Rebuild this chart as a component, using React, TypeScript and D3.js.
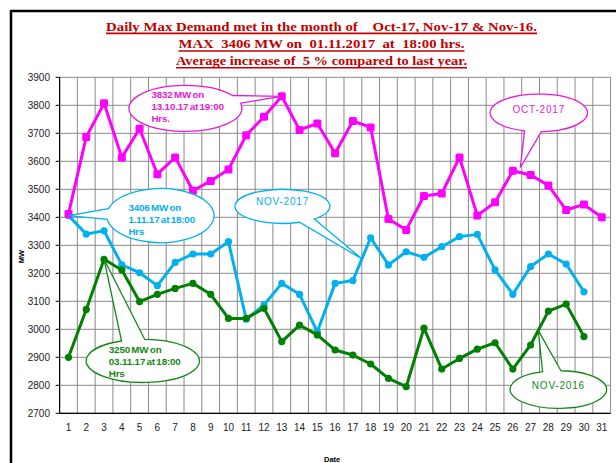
import React from "react";
import * as d3 from "d3";

const days = d3.range(1, 32);
const yTicks = [2700, 2800, 2900, 3000, 3100, 3200, 3300, 3400, 3500, 3600, 3700, 3800, 3900];
const oct17 = [3412, 3687, 3807, 3614, 3716, 3554, 3614, 3495, 3530, 3571, 3693, 3759, 3832, 3712, 3735, 3629, 3744, 3721, 3394, 3355, 3476, 3485, 3614, 3406, 3454, 3566, 3551, 3514, 3426, 3446, 3400];
const nov17 = [3406, 3340, 3352, 3230, 3202, 3156, 3239, 3269, 3269, 3313, 3036, 3087, 3164, 3125, 2991, 3164, 3174, 3327, 3230, 3277, 3257, 3295, 3331, 3339, 3212, 3125, 3224, 3269, 3233, 3134];
const nov16 = [2900, 3071, 3250, 3212, 3099, 3125, 3146, 3164, 3125, 3039, 3039, 3075, 2956, 3015, 2980, 2926, 2908, 2876, 2825, 2795, 3004, 2858, 2896, 2929, 2952, 2858, 2944, 3065, 3090, 2974];
const titleLines = [
  "Daily Max Demand met in the month of    Oct-17, Nov-17 & Nov-16.",
  "MAX  3406 MW on  01.11.2017  at  18:00 hrs.",
  "Average increase of  5 % compared to last year.",
];

const MAG = "#ff00ff";
const CYAN = "#00b0f0";
const GREEN = "#008000";
const TITLE_RED = "#c00000";

const W = 616, H = 463;
const x = d3.scaleLinear().domain([0.5, 31.5]).range([59.6, 610.6]);
const y = d3.scaleLinear().domain([2700, 3900]).range([413.3, 77.3]);

type Callout = {
  color: string; cx: number; cv: number; rx: number; ry: number;
  a1: number; a2: number; tx: number; tv: number;
  lines: string[]; kind: "info" | "label"; dx: number; dy: number;
};

const callouts: Callout[] = [
  { color: "#e619d9", cx: 7.58, cv: 3789, rx: 56.5, ry: 23, a1: -34, a2: -13, tx: 13, tv: 3832,
    lines: ["3832 MW on", "13.10.17 at 19:00", "Hrs."], kind: "info", dx: -34, dy: -14 },
  { color: CYAN, cx: 6.17, cv: 3406, rx: 53.7, ry: 27, a1: 172, a2: 195, tx: 1, tv: 3406,
    lines: ["3406 MW on", "1.11.17 at 18:00", "Hrs"], kind: "info", dx: -32, dy: -8 },
  { color: CYAN, cx: 13.04, cv: 3439, rx: 47.5, ry: 17, a1: 48, a2: 69, tx: 17.5, tv: 3252,
    lines: ["NOV-2017"], kind: "label", dx: 0, dy: -4.5 },
  { color: "#e619d9", cx: 27.46, cv: 3773, rx: 48.7, ry: 18.8, a1: 87, a2: 107, tx: 26.42, tv: 3578,
    lines: ["OCT-2017"], kind: "label", dx: 0, dy: -3.5 },
  { color: "#118811", cx: 5.18, cv: 2887, rx: 56.7, ry: 21.5, a1: -112, a2: -88, tx: 3, tv: 3250,
    lines: ["3250 MW on", "03.11.17 at 18:00", "Hrs"], kind: "info", dx: -34, dy: -11 },
  { color: "#118811", cx: 28.56, cv: 2785, rx: 48.3, ry: 18.8, a1: -109, a2: -87, tx: 27.43, tv: 2996,
    lines: ["NOV-2016"], kind: "label", dx: 0, dy: -4.5 },
];

function calloutPath(c: Callout) {
  const cx = x(c.cx), cy = y(c.cv);
  const p = (deg: number) => {
    const t = (deg * Math.PI) / 180;
    return [cx + c.rx * Math.cos(t), cy + c.ry * Math.sin(t)];
  };
  const [x1, y1] = p(c.a1);
  const [x2, y2] = p(c.a2);
  return `M${x2},${y2} A${c.rx},${c.ry} 0 1 1 ${x1},${y1} L${x(c.tx)},${y(c.tv)} Z`;
}

export default function App() {
  const lineGen = d3.line<number>().x((_, i) => x(i + 1)).y((d) => y(d));
  const titleY = [30.7, 48.3, 65];
  const titleW = [431, 286, 291];
  const cxT = 321.5;
  const font = "Liberation Sans, Arial, sans-serif";
  return (
    <svg width={W} height={H} style={{ position: "absolute", left: 0, top: 0, background: "#fff" }}>
      <rect x={0} y={0} width={W} height={H} fill="#fff" />
      {/* frame */}
      <rect x={11} y={11} width={W + 20} height={H + 20} fill="none" stroke="#000" strokeWidth={2.5} />
      {/* title */}
      {titleLines.map((t, i) => (
        <g key={i}>
          <text x={cxT} y={titleY[i]} textAnchor="middle" fill={TITLE_RED}
            fontFamily="Liberation Serif, Times New Roman, serif" fontWeight="bold" fontSize={13}
            textLength={titleW[i]} lengthAdjust="spacingAndGlyphs" style={{ whiteSpace: "pre" }}>{t}</text>
          <line x1={cxT - titleW[i] / 2} x2={cxT + titleW[i] / 2} y1={titleY[i] + 2.7} y2={titleY[i] + 2.7}
            stroke={TITLE_RED} strokeWidth={1.6} />
        </g>
      ))}
      {/* grid */}
      {yTicks.map((v) => (
        <line key={"h" + v} x1={x(0.5)} x2={x(31.5)} y1={y(v)} y2={y(v)} stroke="#8a8a8a" strokeWidth={1} />
      ))}
      {d3.range(0.5, 32, 1).map((v) => (
        <line key={"v" + v} x1={x(v)} x2={x(v)} y1={y(3900)} y2={y(2700)} stroke="#8a8a8a" strokeWidth={1} />
      ))}
      {/* axes */}
      <line x1={x(0.5)} x2={x(0.5)} y1={y(3900)} y2={y(2700)} stroke="#000" strokeWidth={1.2} />
      <line x1={x(0.5)} x2={x(31.5)} y1={y(2700)} y2={y(2700)} stroke="#000" strokeWidth={1.2} />
      {yTicks.map((v) => (
        <g key={"yt" + v}>
          <line x1={x(0.5) - 4} x2={x(0.5)} y1={y(v)} y2={y(v)} stroke="#000" />
          <text x={50} y={y(v) + 3.5} textAnchor="end" fontFamily={font} fontSize={10} fill="#222">{v}</text>
        </g>
      ))}
      {days.map((d) => (
        <text key={"xt" + d} x={x(d)} y={430.5} textAnchor="middle" fontFamily={font} fontSize={10} fill="#222">{d}</text>
      ))}
      <text transform={`translate(24,256.5) rotate(-90)`} textAnchor="middle" fontFamily={font} fontSize={7.5} fontWeight="bold" fill="#000">MW</text>
      <text x={324} y={462} fontFamily={font} fontSize={7.5} fontWeight="bold" fill="#000">Date</text>
      {/* series */}
      <path d={lineGen(nov17) || ""} fill="none" stroke={CYAN} strokeWidth={3} strokeLinejoin="round" />
      {nov17.map((v, i) => <circle key={"c" + i} cx={x(i + 1)} cy={y(v)} r={3.6} fill={CYAN} />)}
      <path d={lineGen(nov16) || ""} fill="none" stroke={GREEN} strokeWidth={3} strokeLinejoin="round" />
      {nov16.map((v, i) => <circle key={"g" + i} cx={x(i + 1)} cy={y(v)} r={3.6} fill={GREEN} />)}
      <path d={lineGen(oct17) || ""} fill="none" stroke={MAG} strokeWidth={3} strokeLinejoin="round" />
      {oct17.map((v, i) => <rect key={"m" + i} x={x(i + 1) - 4} y={y(v) - 4} width={8} height={8} rx={1.5} fill={MAG} />)}
      {/* callouts */}
      {callouts.map((c, i) => (
        <g key={"co" + i}>
          <path d={calloutPath(c)} fill="#fff" stroke={c.color} strokeWidth={1.3} strokeLinejoin="miter" />
          {c.kind === "label" ? (
            <text x={x(c.cx) + c.dx} y={y(c.cv) + c.dy + 3.6} textAnchor="middle" fontFamily={font}
              fontSize={10} letterSpacing={0.8} fill={c.color}>{c.lines[0]}</text>
          ) : (
            c.lines.map((l, j) => (
              <text key={j} x={x(c.cx) + c.dx} y={y(c.cv) + c.dy + j * 12 + 3.2} fontFamily={font}
                fontSize={9.8} fontWeight="bold" letterSpacing={-0.15} wordSpacing={-1.2} fill={c.color}>{l}</text>
            ))
          )}
        </g>
      ))}
    </svg>
  );
}
